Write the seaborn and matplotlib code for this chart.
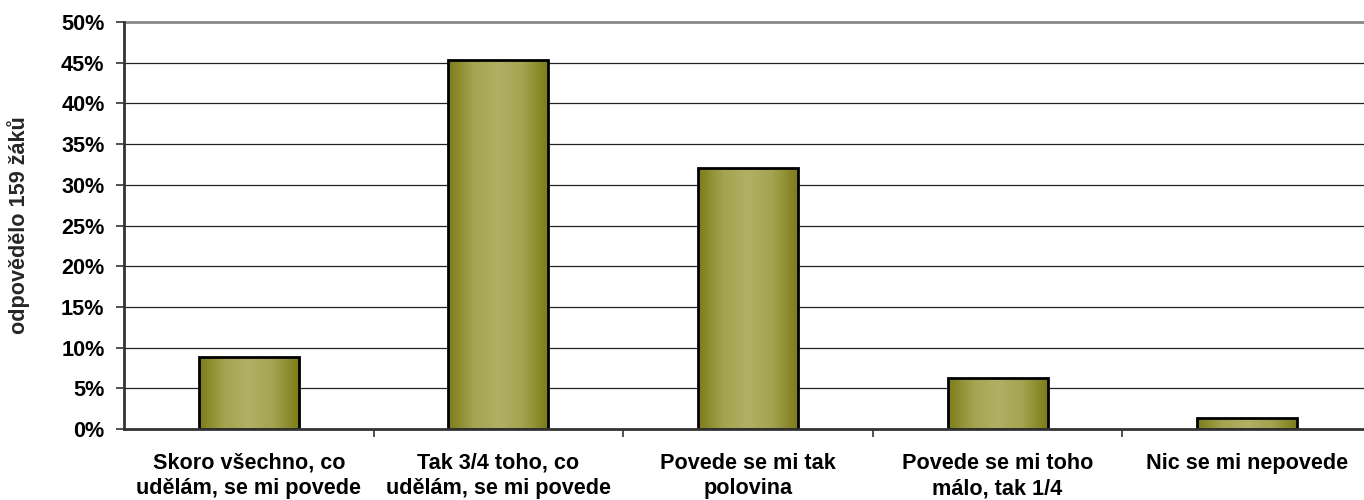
import numpy as np
import pandas as pd
import matplotlib
matplotlib.use("Agg")
import matplotlib.pyplot as plt
from matplotlib.colors import LinearSegmentedColormap
from matplotlib.ticker import FixedLocator
import seaborn as sns

categories = [
    "Skoro všechno, co\nudělám, se mi povede",
    "Tak 3/4 toho, co\nudělám, se mi povede",
    "Povede se mi tak\npolovina",
    "Povede se mi toho\nmálo, tak 1/4",
    "Nic se mi nepovede",
]
shares = [8.8, 45.3, 32.1, 6.3, 1.3]
y_ticks = [0, 5, 10, 15, 20, 25, 30, 35, 40, 45, 50]
y_label = "odpovědělo 159 žáků"

sns.set_theme(style="white")
plt.rcParams["font.family"] = ["Liberation Sans", "DejaVu Sans"]
plt.rcParams["font.weight"] = "bold"

df = pd.DataFrame({"kategorie": categories, "podil": shares})

fig = plt.figure(figsize=(13.64, 5.0), dpi=100)
ax = fig.add_axes([124 / 1364, 71 / 500, 1248 / 1364, 407 / 500])

sns.barplot(data=df, x="kategorie", y="podil", ax=ax, width=0.40,
            color="#9a9a40", edgecolor="black", linewidth=2.0, zorder=3)

# horizontal olive gradient inside each bar
cmap = LinearSegmentedColormap.from_list(
    "olive", ["#7c7c18", "#a3a350", "#b2b064", "#a3a350", "#7c7c18"])
grad = np.linspace(0, 1, 256).reshape(1, -1)
for patch in ax.patches:
    x0, y0 = patch.get_x(), patch.get_y()
    w, h = patch.get_width(), patch.get_height()
    patch.set_facecolor("none")
    im = ax.imshow(grad, cmap=cmap, aspect="auto",
                   extent=[x0, x0 + w, y0, y0 + h], zorder=2.5,
                   interpolation="bicubic")
    im.set_clip_path(patch)
ax.set_xlim(-0.5, 4.5)
ax.set_ylim(0, 50)

# gridlines
for v in y_ticks[1:-1]:
    ax.axhline(v, color="#222222", linewidth=0.9, zorder=1)

ax.set_yticks(y_ticks)
ax.set_yticklabels([f"{v}%" for v in y_ticks], fontsize=15.6, fontweight="bold")
ax.set_xticks(range(len(categories)))
ax.set_xticklabels(categories, fontsize=15.6, fontweight="bold", linespacing=1.3)
ax.xaxis.set_minor_locator(FixedLocator([0.5, 1.5, 2.5, 3.5]))
ax.tick_params(axis="x", which="major", length=0, pad=17)
ax.tick_params(axis="x", which="minor", length=6, width=1.2, color="#333333",
               direction="out", bottom=True)
ax.tick_params(axis="y", which="major", length=6, width=1.2, color="#333333",
               direction="out", left=True, pad=8)

ax.set_xlabel("")
ax.set_ylabel(y_label, fontsize=15.6, fontweight="bold")
ax.yaxis.set_label_coords(-94 / 1248, 0.5)

for side in ["left", "bottom"]:
    ax.spines[side].set_color("#333333")
    ax.spines[side].set_linewidth(2.0)
    ax.spines[side].set_zorder(4)
ax.spines["top"].set_color("#888888")
ax.spines["top"].set_linewidth(2.0)
ax.spines["right"].set_visible(False)

for lbl in ax.get_xticklabels() + ax.get_yticklabels():
    lbl.set_color("black")

fig.savefig("out.png", dpi=100, facecolor="white")
